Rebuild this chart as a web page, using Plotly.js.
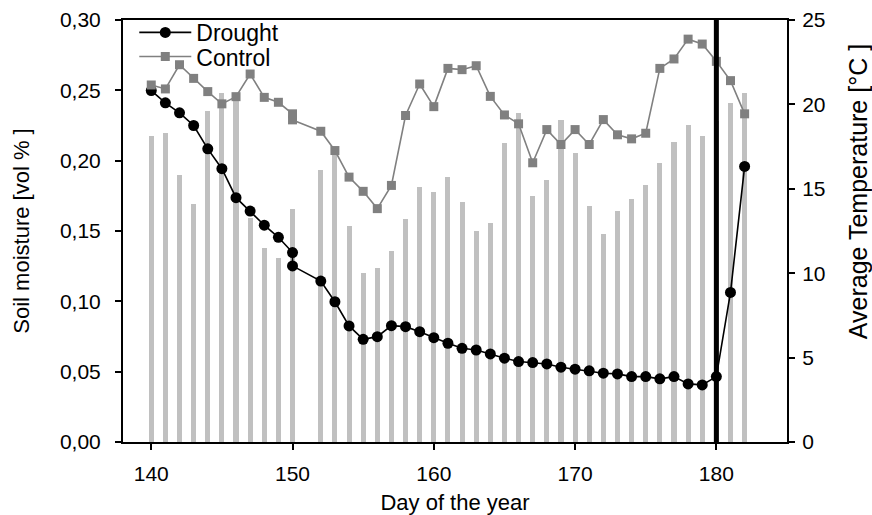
<!DOCTYPE html>
<html>
<head>
<meta charset="utf-8">
<script src="https://cdn.plot.ly/plotly-3.0.1.min.js"></script>
<style>html,body{margin:0;padding:0;background:#fff;}#chart{width:872px;height:515px;}</style>
</head>
<body>
<div id="chart"></div>
<script>
// Temperature bars (right axis)
var tempDays = [140,141,142,143,144,145,146,147,148,149,150,152,153,154,155,156,157,158,159,160,161,162,163,164,165,166,167,168,169,170,171,172,173,174,175,176,177,178,179,180,181,182];
var tempValues = [18.1,18.3,15.8,14.1,19.6,20.7,20.6,13.3,11.5,10.9,13.8,16.1,17.3,12.8,10.0,10.3,11.3,13.2,15.1,14.8,15.7,14.2,12.5,13.0,17.7,19.5,14.6,15.5,19.1,17.1,14.0,12.3,13.7,14.4,15.2,16.5,17.8,18.8,18.1,19.0,20.1,20.7];

// Soil moisture (left axis)
var droughtDays = [140,141,142,143,144,145,146,147,148,149,150,150,152,153,154,155,156,157,158,159,160,161,162,163,164,165,166,167,168,169,170,171,172,173,174,175,176,177,178,179,180,181,182];
var droughtValues = [0.2498,0.2411,0.2340,0.2250,0.2084,0.1943,0.1737,0.1642,0.1541,0.1455,0.1347,0.1252,0.1144,0.0997,0.0825,0.0730,0.0749,0.0827,0.0820,0.0784,0.0742,0.0702,0.0666,0.0654,0.0626,0.0596,0.0572,0.0565,0.0555,0.0532,0.0518,0.0506,0.0489,0.0484,0.0465,0.0465,0.0449,0.0465,0.0413,0.0406,0.0465,0.1063,0.1959];

var controlDays = [140,141,142,143,144,145,146,147,148,149,150,150,152,153,154,155,156,157,158,159,160,161,162,163,164,165,166,167,168,169,170,171,172,173,174,175,176,177,178,179,180,181,182];
var controlValues = [0.2538,0.2510,0.2682,0.2585,0.2491,0.2404,0.2455,0.2616,0.2450,0.2415,0.2333,0.2290,0.2209,0.2072,0.1883,0.1782,0.1659,0.1824,0.2321,0.2545,0.2384,0.2656,0.2647,0.2675,0.2457,0.2325,0.2262,0.1985,0.2221,0.2115,0.2221,0.2115,0.2292,0.2184,0.2155,0.2195,0.2656,0.2723,0.2864,0.2829,0.2706,0.2569,0.2333];

var xTickVals = [140,150,160,170,180];
var xTickText = ['140','150','160','170','180'];
var droughtEndDay = 180;

var font = 'Liberation Sans, Arial, sans-serif';

var traces = [
  {type:'bar', x:tempDays, y:tempValues, yaxis:'y', width:0.36,
   marker:{color:'#c0c0c0', line:{width:0}}, showlegend:false, hoverinfo:'x+y'},
  {type:'scatter', mode:'lines+markers', name:'Drought', x:droughtDays, y:droughtValues, yaxis:'y2',
   legend:'legend',
   line:{color:'#000000', width:1.6}, marker:{symbol:'circle', size:11, color:'#000000'}},
  {type:'scatter', mode:'lines+markers', name:'Control', x:controlDays, y:controlValues, yaxis:'y2',
   legend:'legend2',
   line:{color:'#808080', width:1.6}, marker:{symbol:'square', size:9, color:'#808080'}}
];

var legendCommon = {xanchor:'left', yanchor:'top', bgcolor:'rgba(0,0,0,0)',
  font:{family:font, size:23, color:'#000'}, itemwidth:52};

var layout = {
  width:872, height:515,
  margin:{l:123, r:85, t:19, b:73, pad:0},
  paper_bgcolor:'#ffffff', plot_bgcolor:'#ffffff',
  separators:', ',
  font:{family:font, size:21, color:'#000'},
  showlegend:true,
  legend:Object.assign({x:0.017, y:1.019}, legendCommon),
  legend2:Object.assign({x:0.017, y:0.962}, legendCommon),
  xaxis:{range:[138,185], tickvals:xTickVals, ticktext:xTickText,
    showgrid:false, zeroline:false, showline:true, linecolor:'#000', linewidth:2, mirror:true,
    ticks:'outside', ticklen:6, tickwidth:2, tickcolor:'#000', ticklabelstandoff:6,
    tickfont:{family:font, size:21},
    title:{text:'Day of the year', font:{family:font, size:22}, standoff:11}},
  yaxis:{range:[0,25], dtick:5, tick0:0, side:'right',
    showgrid:false, zeroline:false, showline:true, linecolor:'#000', linewidth:2,
    ticks:'outside', ticklen:6, tickwidth:2, tickcolor:'#000', ticklabelstandoff:3,
    tickfont:{family:font, size:21}},
  yaxis2:{range:[0,0.30], dtick:0.05, tick0:0, tickformat:'.2f', side:'left', overlaying:'y',
    showgrid:false, zeroline:false, showline:true, linecolor:'#000', linewidth:2,
    ticks:'outside', ticklen:6, tickwidth:2, tickcolor:'#000', ticklabelstandoff:10,
    tickfont:{family:font, size:21},
    title:{text:'Soil moisture [vol % ]', font:{family:font, size:22}, standoff:24}},
  annotations:[{text:'Average Temperature [°C ]', textangle:-90, showarrow:false,
    xref:'paper', yref:'paper', x:1.107, y:0.592, xanchor:'center', yanchor:'middle',
    font:{family:font, size:25, color:'#000'}}],
  shapes:[{type:'line', xref:'x', yref:'paper', x0:droughtEndDay, x1:droughtEndDay, y0:0, y1:1,
    line:{color:'#000', width:5}}],
  bargap:0
};

Plotly.newPlot('chart', traces, layout, {displayModeBar:false, staticPlot:true});
</script>
</body>
</html>
